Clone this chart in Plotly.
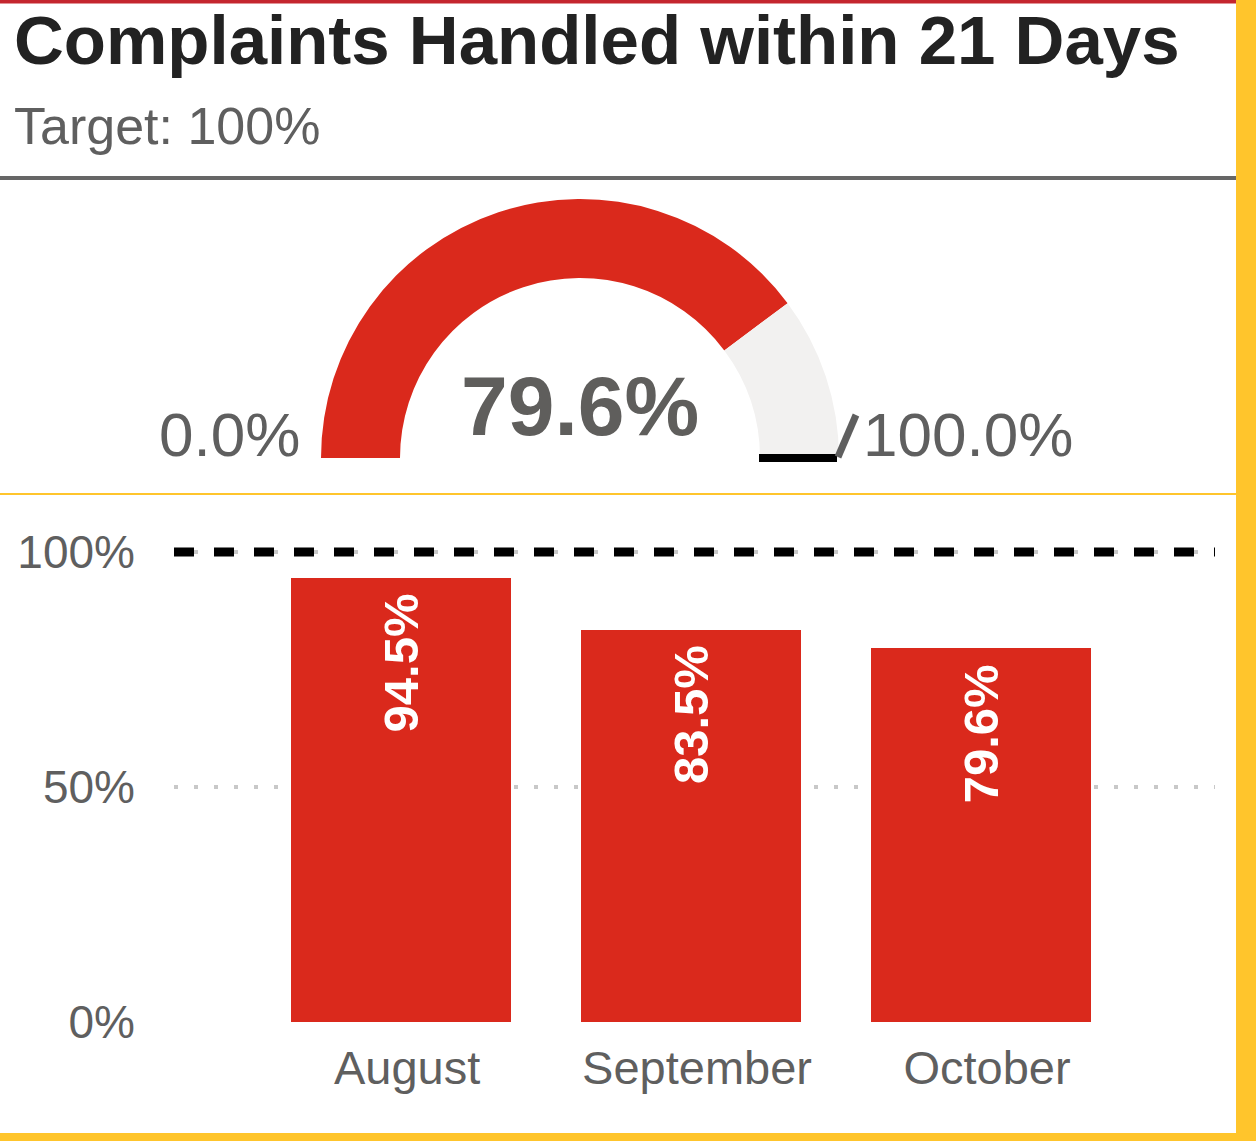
import plotly.graph_objects as go

W, H = 1256, 1141

# ---- data ----
title_text = "Complaints Handled within 21 Days"
subtitle_text = "Target: 100%"
gauge_value = 79.6
gauge_min = 0.0
gauge_max = 100.0
months = ["August", "September", "October"]
pct_values = [94.5, 83.5, 79.6]
target = 100
y_tickvals = [0, 50, 100]
y_ticktext = ["0%", "50%", "100%"]

RED = "#DA291C"
GREY_ARC = "#F2F1F0"
TXT = "#5f5f5f"
YEL = "#FFC52C"
FONT = "Liberation Sans, Arial, sans-serif"


def fx(p):
    return p / W


def fy(p):
    return 1 - p / H


fig = go.Figure()

# gauge drawn as a half donut
cx, cy, R = 580, 458, 259
fig.add_trace(go.Pie(
    values=[gauge_value - gauge_min, gauge_max - gauge_value, gauge_max - gauge_min],
    marker=dict(colors=[RED, GREY_ARC, "rgba(0,0,0,0)"], line=dict(width=0)),
    hole=180 / 259, sort=False, direction="clockwise", rotation=270,
    textinfo="none", hoverinfo="skip", showlegend=False,
    domain=dict(x=[fx(cx - R), fx(cx + R)], y=[fy(cy + R), fy(cy - R)]),
))

# monthly bars
fig.add_trace(go.Bar(
    x=months, y=pct_values, marker=dict(color=RED, line=dict(width=0)),
    width=220 / 290, showlegend=False, hoverinfo="skip",
))

y0_px, ytop_px = 1022, 1022 - 110 * 4.7
fig.update_layout(
    width=W, height=H, margin=dict(l=0, r=0, t=0, b=0, autoexpand=False),
    paper_bgcolor="white", plot_bgcolor="white",
    font=dict(family=FONT, color=TXT),
    xaxis=dict(domain=[fx(174), fx(1215)], range=[-0.783, 2.807], showgrid=False,
               zeroline=False, showline=False, ticks="", tickfont=dict(size=47, color=TXT),
               ticklabelstandoff=14, ticklabelshift=6, automargin=False, fixedrange=True),
    yaxis=dict(domain=[fy(y0_px), fy(ytop_px)], range=[0, 110], tickvals=y_tickvals,
               ticktext=y_ticktext, showgrid=True, gridcolor="#c8c8c8", gridwidth=4,
               griddash="4px,16px", zeroline=False, showline=False, ticks="",
               tickfont=dict(size=46, color=TXT), ticklabelstandoff=38, automargin=False,
               fixedrange=True),
    bargap=0,
)

shapes = [
    dict(type="rect", xref="paper", yref="paper", x0=fx(0), x1=fx(1236), y0=fy(0), y1=fy(3.5),
         fillcolor="#C4262E", line=dict(width=0), layer="above"),
    dict(type="rect", xref="paper", yref="paper", x0=fx(1236), x1=fx(W), y0=fy(H), y1=fy(0),
         fillcolor=YEL, line=dict(width=0), layer="above"),
    dict(type="rect", xref="paper", yref="paper", x0=fx(0), x1=fx(W), y0=fy(H), y1=fy(1133),
         fillcolor=YEL, line=dict(width=0), layer="above"),
    dict(type="rect", xref="paper", yref="paper", x0=fx(0), x1=fx(1236), y0=fy(180), y1=fy(176),
         fillcolor="#666666", line=dict(width=0), layer="above"),
    dict(type="rect", xref="paper", yref="paper", x0=fx(0), x1=fx(1236), y0=fy(495), y1=fy(493),
         fillcolor=YEL, line=dict(width=0), layer="above"),
    dict(type="rect", xref="paper", yref="paper", x0=fx(759), x1=fx(837), y0=fy(462), y1=fy(454),
         fillcolor="black", line=dict(width=0), layer="above"),
    dict(type="line", xref="paper", yref="paper", x0=fx(838), x1=fx(856), y0=fy(457), y1=fy(415),
         line=dict(color="#5f5f5f", width=7), layer="above"),
    dict(type="line", xref="x domain", yref="y", x0=0, x1=1, y0=target, y1=target,
         line=dict(color="black", width=9, dash="20px,20px"), layer="above"),
]
fig.update_layout(shapes=shapes)

ann = [
    dict(text="<b>" + title_text + "</b>", x=fx(12), y=fy(40), xref="paper", yref="paper",
         xanchor="left", yanchor="middle", showarrow=False, font=dict(size=69, color="#222222")),
    dict(text=subtitle_text, x=fx(12), y=fy(126), xref="paper", yref="paper",
         xanchor="left", yanchor="middle", showarrow=False, font=dict(size=52, color=TXT)),
    dict(text="<b>%.1f%%</b>" % gauge_value, x=fx(580), y=fy(406), xref="paper", yref="paper",
         xanchor="center", yanchor="middle", showarrow=False, font=dict(size=84, color="#5f5e5c")),
    dict(text="%.1f%%" % gauge_min, x=fx(302), y=fy(435), xref="paper", yref="paper",
         xanchor="right", yanchor="middle", showarrow=False, font=dict(size=62, color=TXT)),
    dict(text="%.1f%%" % gauge_max, x=fx(861), y=fy(435), xref="paper", yref="paper",
         xanchor="left", yanchor="middle", showarrow=False, font=dict(size=62, color=TXT)),
]
for m, v in zip(months, pct_values):
    ann.append(dict(text="<b>%.1f%%</b>" % v, x=m, y=v, xref="x", yref="y", xanchor="center",
                    yanchor="top", yshift=-14, textangle=-90, showarrow=False,
                    font=dict(size=49, color="white")))
fig.update_layout(annotations=ann)

fig.write_html("out.html", config=dict(displayModeBar=False, staticPlot=True),
               post_script="document.body.style.margin='0';document.body.style.overflow='hidden';")
